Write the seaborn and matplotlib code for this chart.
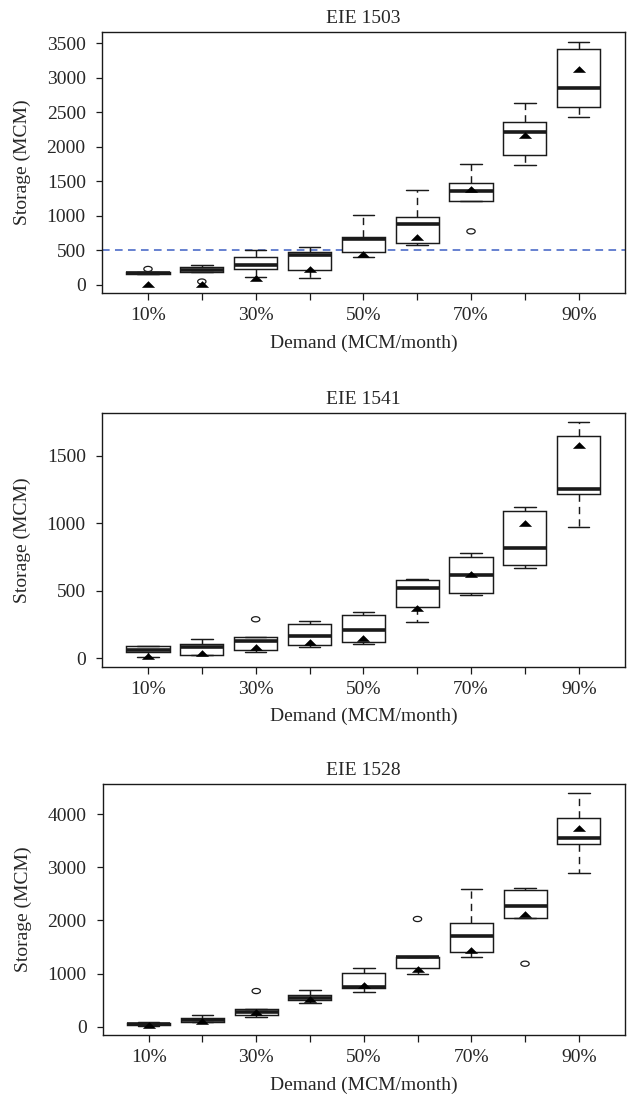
import numpy as np
import pandas as pd
import matplotlib
matplotlib.use("Agg")
import matplotlib.pyplot as plt
import seaborn as sns

sns.set_style("ticks")
plt.rcParams["font.family"] = ["Liberation Serif", "DejaVu Serif"]

categories = ["10%", "20%", "30%", "40%", "50%", "60%", "70%", "80%", "90%"]
xtick_labels = ["10%", "", "30%", "", "50%", "", "70%", "", "90%"]

# ---- EIE 1503 ----
p1_title = "EIE 1503"
p1_lo  = [155, 182, 116, 106, 405, 575, 1216, 1742, 2437]
p1_q1  = [157, 186, 236, 213, 482, 604, 1216, 1882, 2577]
p1_med = [172, 220, 285, 440, 662, 888, 1361, 2222, 2853]
p1_q3  = [190, 254, 405, 482, 695, 989, 1481, 2356, 3413]
p1_hi  = [192, 288, 505, 546, 1018, 1380, 1756, 2635, 3519]
p1_out_cat = ["10%", "20%", "70%"]
p1_out_val = [232, 50, 777]
p1_mean = [20, 20, 105, 235, 445, 690, 1395, 2176, 3123]
p1_ref_line = 500
p1_yticks = [0, 500, 1000, 1500, 2000, 2500, 3000, 3500]

# ---- EIE 1541 ----
p2_title = "EIE 1541"
p2_lo  = [7, 27, 47, 86, 106, 269, 471, 669, 975]
p2_q1  = [44, 27, 59, 98, 118, 380, 481, 693, 1216]
p2_med = [59, 86, 128, 165, 207, 518, 614, 817, 1253]
p2_q3  = [89, 104, 155, 256, 323, 577, 748, 1088, 1646]
p2_hi  = [89, 143, 155, 276, 343, 587, 777, 1118, 1750]
p2_out_cat = ["30%"]
p2_out_val = [289]
p2_mean = [19, 37, 81, 123, 148, 370, 624, 1002, 1579]
p2_yticks = [0, 500, 1000, 1500]

# ---- EIE 1528 ----
p3_title = "EIE 1528"
p3_lo  = [5, 80, 176, 451, 658, 986, 1305, 2050, 2891]
p3_q1  = [30, 82, 226, 496, 722, 1098, 1399, 2050, 3430]
p3_med = [45, 126, 276, 533, 747, 1305, 1700, 2265, 3543]
p3_q3  = [70, 164, 327, 596, 1010, 1317, 1945, 2577, 3931]
p3_hi  = [90, 220, 339, 690, 1098, 1317, 2590, 2603, 4402]
p3_out_cat = ["30%", "60%", "80%"]
p3_out_val = [671, 2026, 1185]
p3_mean = [40, 113, 276, 515, 784, 1080, 1443, 2114, 3731]
p3_yticks = [0, 1000, 2000, 3000, 4000]

W, H = 629, 1102
fig = plt.figure(figsize=(W / 100, H / 100), dpi=100)

LINE = "#1a1a1a"
tri = [(-1, -0.5), (1, -0.5), (0, 0.5), (-1, -0.5)]
th = np.linspace(0, 2 * np.pi, 40)
ell = list(zip(np.cos(th), 0.62 * np.sin(th)))


def panel(rect, title, lo, q1, med, q3, hi, oc, ov, mean, yticks, ylim, ref=None):
    ax = fig.add_axes([rect[0] / W, 1 - rect[3] / H, (rect[2] - rect[0]) / W, (rect[3] - rect[1]) / H])
    rows = []
    for c, a, b, m, d, e in zip(categories, lo, q1, med, q3, hi):
        for v in (a, b, m, d, e):
            rows.append((c, v))
    df = pd.DataFrame(rows, columns=["Demand", "Storage"])
    sns.boxplot(data=df, x="Demand", y="Storage", order=categories, ax=ax,
                width=0.8, whis=(0, 100), showfliers=False, color="white",
                linecolor=LINE, linewidth=1.05,
                medianprops=dict(linewidth=2.6, color=LINE),
                whiskerprops=dict(linestyle=(0, (5, 3.5)), color=LINE),
                capprops=dict(color=LINE),
                boxprops=dict(facecolor="white", edgecolor=LINE))
    if ref is not None:
        ax.axhline(ref, color="#3d5fc4", linestyle=(0, (5, 3.5)), linewidth=1.1, zorder=1)
    if len(ov):
        sns.stripplot(x=oc, y=ov, order=categories, ax=ax, jitter=False,
                      marker=ell, s=6, facecolor="none", edgecolor=LINE,
                      linewidth=0.9, zorder=4)
    sns.stripplot(x=categories, y=mean, order=categories, ax=ax, jitter=False,
                  marker=tri, s=9.5, color="black", linewidth=0, zorder=5)
    ax.set_xlim(-0.86, 8.86)
    ax.set_ylim(*ylim)
    ax.set_xticks(range(len(categories)))
    ax.set_xticklabels(xtick_labels)
    ax.set_yticks(yticks)
    ax.set_yticklabels([str(v) for v in yticks])
    ax.tick_params(axis="x", length=5, width=0.9, pad=5, labelsize=14, color=LINE)
    ax.tick_params(axis="y", length=4.5, width=0.9, pad=7, labelsize=14, color=LINE)
    for s in ax.spines.values():
        s.set_visible(True)
        s.set_color(LINE)
        s.set_linewidth(1.0)
    ax.set_title(title, fontsize=14, pad=6.5)
    ax.set_xlabel("Demand (MCM/month)", fontsize=14, labelpad=7.5)
    ax.set_ylabel("Storage (MCM)", fontsize=14, labelpad=11)
    return ax


panel((101.7, 32, 625, 293), p1_title, p1_lo, p1_q1, p1_med, p1_q3, p1_hi,
      p1_out_cat, p1_out_val, p1_mean, p1_yticks, (-116, 3664), ref=p1_ref_line)
panel((101.7, 412.7, 625, 666.7), p2_title, p2_lo, p2_q1, p2_med, p2_q3, p2_hi,
      p2_out_cat, p2_out_val, p2_mean, p2_yticks, (-62, 1818))
panel((102.5, 783.7, 625, 1035), p3_title, p3_lo, p3_q1, p3_med, p3_q3, p3_hi,
      p3_out_cat, p3_out_val, p3_mean, p3_yticks, (-156, 4571))

fig.savefig("out.png", dpi=100)
